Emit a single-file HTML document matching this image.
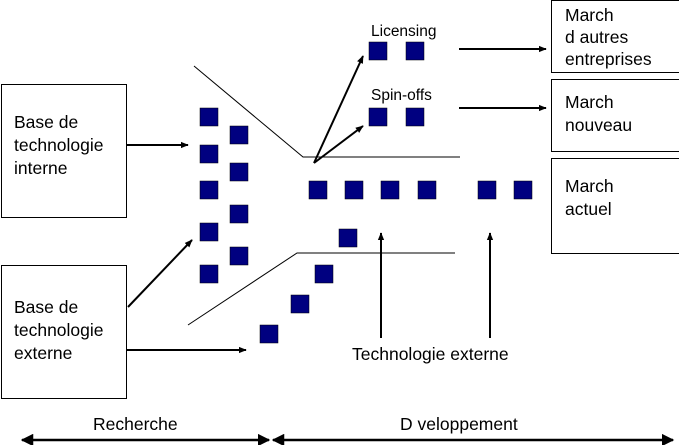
<!DOCTYPE html>
<html><head><meta charset="utf-8"><style>
body{margin:0;background:#fff;width:679px;height:445px;overflow:hidden}
svg{display:block}
text{font-family:"Liberation Sans",sans-serif;fill:#000}
</style></head><body>
<svg width="679" height="445" viewBox="0 0 679 445" xmlns="http://www.w3.org/2000/svg">
<defs>
<marker id="a" viewBox="0 0 10 10" refX="9" refY="5" markerWidth="4" markerHeight="4" orient="auto-start-reverse"><path d="M0,1 L10,5 L0,9 z" fill="#000"/></marker>
<marker id="b" viewBox="0 0 10 10" refX="9" refY="5" markerWidth="5" markerHeight="5" orient="auto-start-reverse"><path d="M0,0 L10,5 L0,10 z" fill="#000"/></marker>
</defs>
<g fill="#fff" stroke="#000" stroke-width="1">
<rect x="1.5" y="84.5" width="125" height="133"/>
<rect x="1.5" y="265.5" width="125" height="133"/>
<rect x="551.5" y="0.5" width="128" height="72"/>
<rect x="551.5" y="79.5" width="128" height="72"/>
<rect x="551.5" y="158.5" width="128" height="95"/>
</g>
<g font-size="17.5">
<text x="14" y="128">Base de</text><text x="14" y="151">technologie</text><text x="14" y="174">interne</text>
<text x="14" y="313">Base de</text><text x="14" y="336">technologie</text><text x="14" y="359">externe</text>
<text x="565" y="21">March</text><text x="565" y="43">d autres</text><text x="565" y="65">entreprises</text>
<text x="565" y="108">March</text><text x="565" y="131">nouveau</text>
<text x="565" y="192">March</text><text x="565" y="215">actuel</text>
<text x="352" y="360">Technologie externe</text>
<text x="93" y="430">Recherche</text>
<text x="400" y="430">D  veloppement</text>
</g>
<g font-size="15.5"><text x="371" y="36">Licensing</text><text x="371" y="100">Spin-offs</text></g>
<g fill="#000080" stroke="#000" stroke-width="0.5">
<rect x="200" y="108" width="18" height="18"/><rect x="200" y="145" width="18" height="18"/><rect x="200" y="181" width="18" height="18"/><rect x="200" y="223" width="18" height="18"/><rect x="200" y="265" width="18" height="18"/>
<rect x="230" y="126" width="18" height="18"/><rect x="230" y="163" width="18" height="18"/><rect x="230" y="205" width="18" height="18"/><rect x="230" y="247" width="18" height="18"/>
<rect x="309" y="181" width="18" height="18"/><rect x="345" y="181" width="18" height="18"/><rect x="381" y="181" width="18" height="18"/><rect x="418" y="181" width="18" height="18"/><rect x="478" y="181" width="18" height="18"/><rect x="514" y="181" width="18" height="18"/>
<rect x="339" y="229" width="18" height="18"/><rect x="315" y="265" width="18" height="18"/><rect x="291" y="295" width="18" height="18"/><rect x="260" y="325" width="18" height="18"/>
<rect x="369" y="42" width="18" height="18"/><rect x="406" y="42" width="18" height="18"/>
<rect x="369" y="108" width="18" height="18"/><rect x="406" y="108" width="18" height="18"/>
</g>
<g fill="none" stroke="#000" stroke-width="1">
<polyline points="194,66 303,157 460,157"/>
<polyline points="188,325 297,253 455,253"/>
</g>
<g stroke="#000" stroke-width="2" marker-end="url(#a)">
<line x1="314" y1="163" x2="363" y2="56"/>
<line x1="314" y1="163" x2="363" y2="126"/>
<line x1="381" y1="338" x2="381" y2="233"/>
<line x1="490" y1="338" x2="490" y2="233"/>
<line x1="459" y1="49" x2="546" y2="49"/>
<line x1="459" y1="108" x2="546" y2="108"/>
<line x1="127" y1="145" x2="188" y2="145"/>
<line x1="128" y1="307" x2="192" y2="240"/>
<line x1="127" y1="350" x2="246" y2="350"/>
</g>
<g stroke="#000" stroke-width="2.5" marker-end="url(#b)" marker-start="url(#b)">
<line x1="22" y1="440" x2="269" y2="440"/>
<line x1="273" y1="440" x2="673" y2="440"/>
</g>
</svg>
</body></html>
